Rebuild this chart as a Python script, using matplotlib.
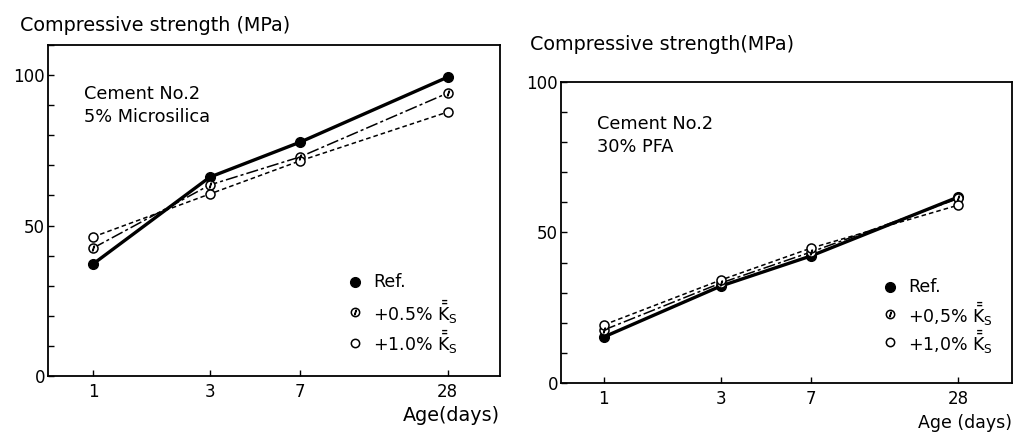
import matplotlib
matplotlib.use("Agg")
import matplotlib.pyplot as plt
from matplotlib.ticker import FixedLocator, NullFormatter, MultipleLocator

# Age in days (log-spaced axis)
AGES = [1, 3, 7, 28]
AGE_LABELS = ["1", "3", "7", "28"]

# Left panel: Cement No.2, 5% Microsilica
MS_REF = [37.2, 66.1, 77.7, 99.3]
MS_05 = [42.5, 63.5, 72.8, 94.0]
MS_10 = [46.2, 60.5, 71.5, 87.7]

# Right panel: Cement No.2, 30% PFA
PFA_REF = [15.3, 32.2, 42.2, 61.8]
PFA_05 = [17.6, 33.2, 43.5, 61.3]
PFA_10 = [19.3, 34.2, 44.8, 59.1]

KS = r"$\bar{\bar{\mathrm{K}}}_{\mathrm{S}}$"
LEG_LEFT = ["Ref.", "+0.5% " + KS, "+1.0% " + KS]
LEG_RIGHT = ["Ref.", "+0,5% " + KS, "+1,0% " + KS]

plt.rcParams['font.family'] = 'DejaVu Sans'
plt.rcParams['mathtext.fontset'] = 'dejavusans'

fig = plt.figure(figsize=(10.16, 4.36), dpi=100)


def panel(rect, ref, p05, p10, xlim, ylim, note, leg_labels, leg_xy, xlabel):
    ax = fig.add_axes(rect)
    ax.plot(AGES, ref, color='black', lw=2.4, marker='o', ms=7,
            mfc='black', mec='black', zorder=3)
    ax.plot(AGES, p05, color='black', lw=1.1, ls=(0, (8, 2, 2, 2)),
            marker='o', ms=6.5, mfc='white', mec='black', mew=1.1, zorder=4)
    ax.plot(AGES, p05, ls='none', marker=r'$/$', ms=3.5, color='black', zorder=5)
    ax.plot(AGES, p10, color='black', lw=1.1, ls=(0, (3, 2)),
            marker='o', ms=6.5, mfc='white', mec='black', mew=1.1, zorder=4)

    ax.set_xscale('log')
    ax.set_xlim(*xlim)
    ax.set_ylim(*ylim)
    ax.xaxis.set_major_locator(FixedLocator(AGES))
    ax.set_xticklabels(AGE_LABELS)
    ax.xaxis.set_minor_locator(FixedLocator([]))
    ax.xaxis.set_minor_formatter(NullFormatter())
    ax.yaxis.set_major_locator(FixedLocator([0, 50, 100]))
    ax.yaxis.set_minor_locator(MultipleLocator(10))
    ax.tick_params(which='both', direction='in', length=4, width=1,
                   labelsize=12, colors='black')
    ax.tick_params(axis='y', pad=2)
    ax.tick_params(axis='x', pad=5)
    for s in ax.spines.values():
        s.set_linewidth(1.3)

    ax.text(0.08, 0.88 if ylim[1] > 100 else 0.89, note, transform=ax.transAxes,
            fontsize=12.8, va='top', linespacing=1.35)

    # hand-drawn style legend
    lx, ly = leg_xy
    for i, lab in enumerate(leg_labels):
        yy = ly - i * 0.092
        if i == 0:
            ax.plot([lx], [yy], transform=ax.transAxes, marker='o', ms=7,
                    color='black', clip_on=False)
        else:
            ax.plot([lx], [yy], transform=ax.transAxes, marker='o', ms=6,
                    mfc='white', mec='black', mew=1.1, clip_on=False)
            if i == 1:
                ax.plot([lx], [yy], transform=ax.transAxes, marker=r'$/$',
                        ms=3.3, color='black', clip_on=False)
        ax.text(lx + 0.04, yy, lab, transform=ax.transAxes, fontsize=12.5,
                va='center', ha='left')
    fig.text(rect[0] + rect[2], xlabel[1], xlabel[0], ha='right', va='center',
             fontsize=xlabel[2])
    return ax


axl = panel([0.0472, 0.1376, 0.4448, 0.7592], MS_REF, MS_05, MS_10,
            (0.655, 45.8), (0, 110), "Cement No.2\n5% Microsilica",
            LEG_LEFT, (0.68, 0.285), ("Age(days)", 0.048, 13.8))
axr = panel([0.552, 0.1216, 0.444, 0.6904], PFA_REF, PFA_05, PFA_10,
            (0.667, 46.3), (0, 100), "Cement No.2\n30% PFA",
            LEG_RIGHT, (0.73, 0.32), ("Age (days)", 0.03, 12.5))

fig.text(0.02, 0.942, "Compressive strength (MPa)", fontsize=13.8, va='center')
fig.text(0.522, 0.897, "Compressive strength(MPa)", fontsize=13.8, va='center')

fig.savefig("out.png", dpi=100)
